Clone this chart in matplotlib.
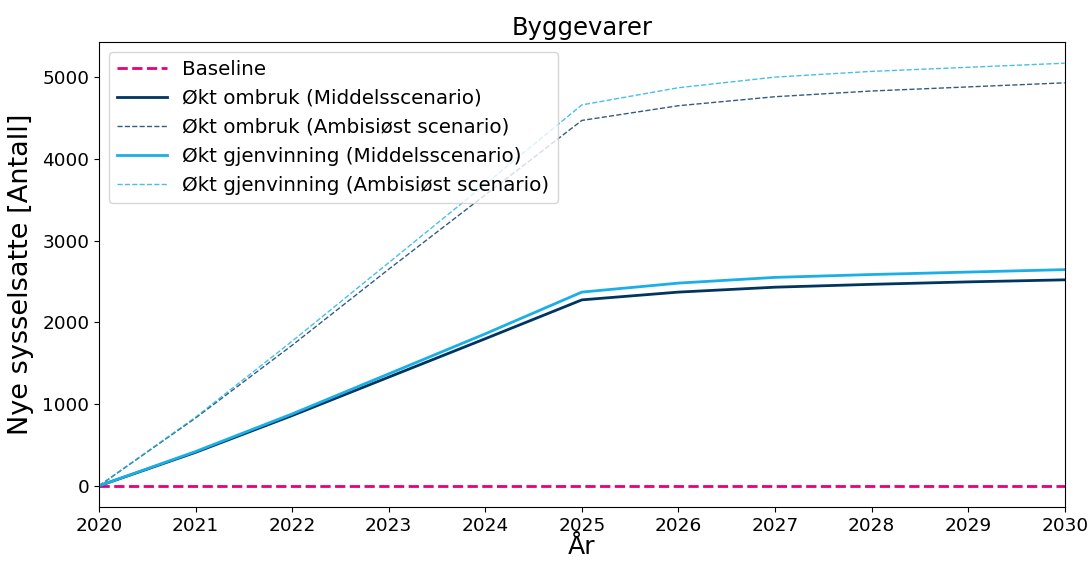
import matplotlib.pyplot as plt

aar = [2020, 2021, 2022, 2023, 2024, 2025, 2026, 2027, 2028, 2029, 2030]
baseline = [0] * len(aar)
ombruk_middel = [0, 410, 860, 1330, 1800, 2275, 2370, 2430, 2465, 2495, 2520]
ombruk_ambisiost = [0, 830, 1720, 2650, 3560, 4470, 4650, 4760, 4830, 4880, 4930]
gjenvinning_middel = [0, 420, 880, 1370, 1860, 2370, 2480, 2550, 2585, 2615, 2645]
gjenvinning_ambisiost = [0, 840, 1770, 2730, 3690, 4660, 4870, 5000, 5070, 5120, 5170]

rosa = '#e6007e'
marine = '#003560'
lysblaa = '#1aafe6'

fig = plt.figure(figsize=(10.92, 5.61), dpi=100)
ax = fig.add_axes([0.0907, 0.0963, 0.8843, 0.8287])

ax.plot(aar, baseline, color=rosa, linestyle='--', linewidth=2, label='Baseline')
ax.plot(aar, ombruk_middel, color=marine, linewidth=2, label='Økt ombruk (Middelsscenario)')
ax.plot(aar, ombruk_ambisiost, color=marine, linestyle='--', linewidth=1, alpha=0.8,
        label='Økt ombruk (Ambisiøst scenario)')
ax.plot(aar, gjenvinning_middel, color=lysblaa, linewidth=2, label='Økt gjenvinning (Middelsscenario)')
ax.plot(aar, gjenvinning_ambisiost, color=lysblaa, linestyle='--', linewidth=1, alpha=0.8,
        label='Økt gjenvinning (Ambisiøst scenario)')

ax.set_xlim(2020, 2030)
ax.set_xticks(aar)
ax.tick_params(labelsize=13.3)
ax.set_title('Byggevarer', fontsize=17.5, pad=5)
ax.set_xlabel('År', fontsize=18, labelpad=0)
ax.set_ylabel('Nye sysselsatte [Antall]', fontsize=19.5, labelpad=6)
ax.legend(loc='upper left', fontsize=14.3, handlelength=2.5)

fig.savefig('out.png', dpi=100)
